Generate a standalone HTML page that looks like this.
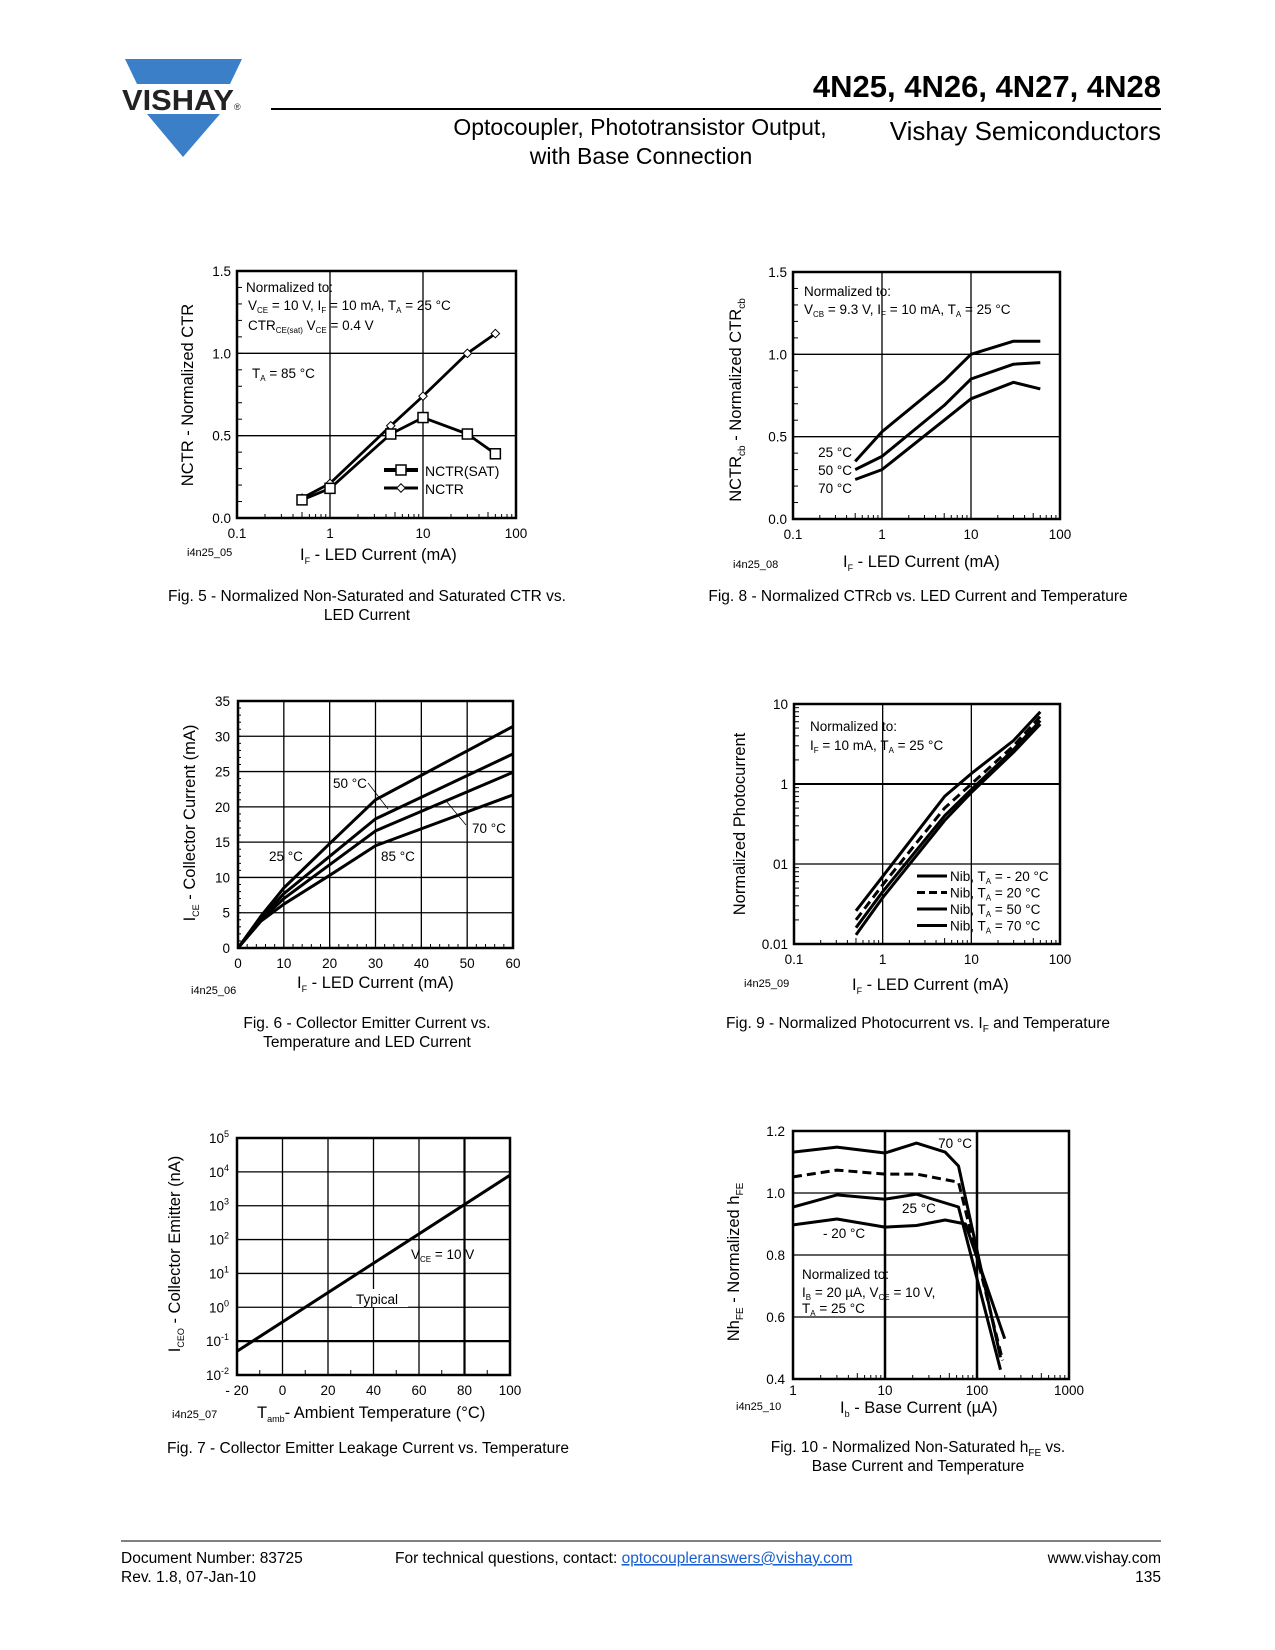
<!DOCTYPE html>
<html><head><meta charset="utf-8"><style>
html,body{margin:0;padding:0;background:#fff}
svg{display:block;font-family:"Liberation Sans",Arial,sans-serif}
</style></head><body>
<svg id="pg" width="1275" height="1650" viewBox="0 0 1275 1650" xmlns="http://www.w3.org/2000/svg">
<g>
<polygon points="125,59 242,59 230,84 137,84" fill="#3b7fc8"/>
<polygon points="147,114 220,114 183,157" fill="#3b7fc8"/>
<text x="122" y="110" font-size="29" font-weight="bold" fill="#222" textLength="112" lengthAdjust="spacingAndGlyphs">VISHAY</text>
<text x="234" y="110" font-size="9" fill="#222">®</text>
<text x="1161" y="97" font-size="31" font-weight="bold" text-anchor="end">4N25, 4N26, 4N27, 4N28</text>
<line x1="271" y1="109" x2="1161" y2="109" stroke="#000" stroke-width="2"/>
<text x="640" y="135" font-size="23" text-anchor="middle">Optocoupler, Phototransistor Output,</text>
<text x="641" y="164" font-size="23" text-anchor="middle">with Base Connection</text>
<text x="1161" y="140" font-size="26" text-anchor="end">Vishay Semiconductors</text>
</g>
<g id="charts"></g>
<g>
<line x1="121" y1="1541" x2="1161" y2="1541" stroke="#000" stroke-width="1"/>
<text x="121" y="1563" font-size="15.5">Document Number: 83725</text>
<text x="121" y="1582" font-size="15.5">Rev. 1.8, 07-Jan-10</text>
<text x="395" y="1563" font-size="15.5">For technical questions, contact: <tspan fill="#1a5fd0" text-decoration="underline">optocoupleranswers@vishay.com</tspan></text>
<text x="1161" y="1563" font-size="15.5" text-anchor="end">www.vishay.com</text>
<text x="1161" y="1582" font-size="15.5" text-anchor="end">135</text>
</g>
</svg>
<script>
// Fig 5
const f5x = [0.5, 1, 4.5, 10, 30, 60];
const f5nctr = [0.12, 0.21, 0.56, 0.74, 1.0, 1.12];
const f5sat = [0.11, 0.18, 0.51, 0.61, 0.51, 0.39];
const f5yt = [0, 0.5, 1.0, 1.5];
const f5xt = [0.1, 1, 10, 100];
// Fig 8
const f8x = [0.5, 1, 5, 10, 30, 60];
const f8t25 = [0.35, 0.53, 0.84, 1.0, 1.08, 1.08];
const f8t50 = [0.30, 0.38, 0.69, 0.85, 0.94, 0.95];
const f8t70 = [0.24, 0.30, 0.60, 0.73, 0.83, 0.79];
// Fig 6
const f6x = [0, 5, 10, 20, 30, 60];
const f6t25 = [0, 4.5, 8.5, 14.8, 21, 31.4];
const f6t50 = [0, 4.2, 7.7, 13, 18.3, 27.5];
const f6t70 = [0, 4.0, 7.0, 11.8, 16.6, 24.9];
const f6t85 = [0, 3.8, 6.2, 10.3, 14.5, 21.7];
const f6xt = [0, 10, 20, 30, 40, 50, 60];
const f6yt = [0, 5, 10, 15, 20, 25, 30, 35];
// Fig 9
const f9x = [0.5, 1, 5, 10, 30, 60];
const f9m20 = [0.026, 0.07, 0.7, 1.35, 3.5, 8];
const f9p20 = [0.02, 0.055, 0.5, 1.0, 3.0, 7];
const f9p50 = [0.016, 0.045, 0.4, 0.85, 2.7, 6.2];
const f9p70 = [0.013, 0.038, 0.35, 0.78, 2.5, 5.6];
// Fig 7
const f7x = [-20, 100];
const f7log = [-1.3, 3.9];
const f7xt = [-20, 0, 20, 40, 60, 80, 100];
const f7yt = [-2, -1, 0, 1, 2, 3, 4, 5];
// Fig 10
const f10x70 = [1, 3, 10, 22, 45, 63, 180];
const f10t70 = [1.132, 1.148, 1.129, 1.161, 1.132, 1.087, 0.47];
const f10xd = [1, 3, 10, 22, 63, 190];
const f10td = [1.052, 1.074, 1.061, 1.061, 1.035, 0.46];
const f10x25 = [1, 3, 10, 22, 63, 180];
const f10t25 = [0.955, 0.994, 0.98, 0.996, 0.955, 0.43];
const f10xm = [1, 3, 10, 22, 45, 75, 200];
const f10tm = [0.897, 0.916, 0.89, 0.895, 0.913, 0.9, 0.53];

const NS = "http://www.w3.org/2000/svg";
const root = document.getElementById('charts');
function mk(tag, attrs, parent, txt) {
  const e = document.createElementNS(NS, tag);
  for (const k in attrs) e.setAttribute(k, attrs[k]);
  if (txt !== undefined) e.textContent = txt;
  (parent || root).appendChild(e);
  return e;
}
function ln(g, x1, y1, x2, y2, w, name) {
  const e = mk('line', {x1:x1, y1:y1, x2:x2, y2:y2, stroke:'#000', 'stroke-width':w||1}, g);
  
  
  return e;
}
function tx(g, x, y, s, size, anchor, name, html) {
  const e = mk('text', {x:x, y:y, 'font-size':size||13.5, 'text-anchor':anchor||'start'}, g);
  if (html) e.innerHTML = s; else e.textContent = s;
  
  
  return e;
}
function path(g, xs, ys, fx, fy, w, dash, name) {
  let d = '';
  for (let i = 0; i < xs.length; i++) d += (i ? 'L' : 'M') + fx(xs[i]).toFixed(1) + ',' + fy(ys[i]).toFixed(1);
  const e = mk('path', {d:d, fill:'none', stroke:'#000', 'stroke-width':w||3, 'stroke-linejoin':'round'}, g);
  if (dash) e.setAttribute('stroke-dasharray', dash);
  
  
  return e;
}
function grp(name) {
  const g = mk('g', {});
  
  
  return g;
}
function logX(x0, x1, l0, l1) { return v => x0 + (Math.log10(v) - l0) * (x1 - x0) / (l1 - l0); }
function linS(p0, p1, v0, v1) { return v => p0 + (v - v0) * (p1 - p0) / (v1 - v0); }
function frame(g, L, T, R, B) {
  const e = mk('rect', {x:L, y:T, width:R-L, height:B-T, fill:'none', stroke:'#000', 'stroke-width':2.5}, g);
  
  
}
function logMinorX(g, fx, l0, l1, B) {
  for (let d = l0; d < l1; d++) for (let k = 2; k <= 9; k++) {
    const x = fx(k * Math.pow(10, d)); ln(g, x, B, x, B - (k === 5 ? 6 : 4), 1, 'x-minor-tick');
  }
}
function ytitle(g, x, y, s, name) {
  const e = tx(g, 0, 0, s, 16.5, 'middle', name, true);
  e.setAttribute('transform', 'translate(' + x + ',' + y + ') rotate(-90)');
}
function caption(g, cx, y, lines) {
  lines.forEach((s, i) => tx(g, cx, y + i * 19, s, 15.5, 'middle', 'figure-caption', true));
}

// ---- Fig 5
(function () {
  const g = grp('fig5-chart');
  const L = 237, R = 516, T = 271, B = 518;
  const fx = logX(L, R, -1, 2), fy = linS(B, T, 0, 1.5);
  [1, 10].forEach(v => ln(g, fx(v), T, fx(v), B, 1.3, 'x-grid'));
  [0.5, 1.0].forEach(v => ln(g, L, fy(v), R, fy(v), 1.3, 'y-grid'));
  for (let v = 0.1; v < 1.5; v += 0.1) ln(g, L, fy(v), L + 5, fy(v), 1, 'y-minor-tick');
  logMinorX(g, fx, -1, 2, B);
  frame(g, L, T, R, B);
  f5yt.forEach(v => tx(g, L - 6, fy(v) + 5, v.toFixed(1), 13.5, 'end', 'y-tick-label'));
  f5xt.forEach(v => tx(g, fx(v), B + 20, String(v), 13.5, 'middle', 'x-tick-label'));
  path(g, f5x, f5nctr, fx, fy, 2.8, null, 'series-nctr');
  path(g, f5x, f5sat, fx, fy, 2.8, null, 'series-nctr-sat');
  f5x.forEach((v, i) => {
    const d = mk('rect', {x:fx(v)-3, y:fy(f5nctr[i])-3, width:6, height:6, fill:'#fff', stroke:'#000', 'stroke-width':1, transform:'rotate(45 '+fx(v)+' '+fy(f5nctr[i])+')'}, g);
     
    const s = mk('rect', {x:fx(v)-5, y:fy(f5sat[i])-5, width:10, height:10, fill:'#fff', stroke:'#000', 'stroke-width':1.5}, g);
     
  });
  tx(g, 246, 292, 'Normalized to:', 13.5, 'start', 'norm-note');
  tx(g, 248, 310, 'V<tspan font-size="8" dy="3">CE</tspan><tspan dy="-3"> = 10 V, I</tspan><tspan font-size="8" dy="3">F</tspan><tspan dy="-3"> = 10 mA, T</tspan><tspan font-size="8" dy="3">A</tspan><tspan dy="-3"> = 25 °C</tspan>', 13.5, 'start', 'norm-note', true);
  tx(g, 248, 330, 'CTR<tspan font-size="8" dy="3">CE(sat)</tspan><tspan dy="-3"> V</tspan><tspan font-size="8" dy="3">CE</tspan><tspan dy="-3"> = 0.4 V</tspan>', 13.5, 'start', 'norm-note', true);
  tx(g, 252, 378, 'T<tspan font-size="8" dy="3">A</tspan><tspan dy="-3"> = 85 °C</tspan>', 13.5, 'start', 'temp-note', true);
  ln(g, 384, 470, 418, 470, 4, 'legend-line-sat');
  const s = mk('rect', {x:396, y:465, width:10, height:10, fill:'#fff', stroke:'#000', 'stroke-width':1.5}, g);
   
  tx(g, 425, 476, 'NCTR(SAT)', 14, 'start', 'legend-entry-sat');
  ln(g, 384, 488, 418, 488, 3, 'legend-line-nctr');
  const d = mk('rect', {x:398, y:485, width:6, height:6, fill:'#fff', stroke:'#000', transform:'rotate(45 401 488)'}, g);
   
  tx(g, 425, 494, 'NCTR', 14, 'start', 'legend-entry-nctr');
  ytitle(g, 193, 395, 'NCTR - Normalized CTR', 'y-axis-title');
  tx(g, 300, 560, 'I<tspan font-size="9" dy="4">F</tspan><tspan dy="-4"> - LED Current (mA)</tspan>', 16.5, 'start', 'x-axis-title', true);
  tx(g, 187, 556, 'i4n25_05', 11, 'start', 'figure-id');
  caption(g, 367, 601, ['Fig. 5 - Normalized Non-Saturated and Saturated CTR vs.', 'LED Current']);
})();

// ---- Fig 8
(function () {
  const g = grp('fig8-chart');
  const L = 793, R = 1060, T = 272, B = 519;
  const fx = logX(L, R, -1, 2), fy = linS(B, T, 0, 1.5);
  [1, 10].forEach(v => ln(g, fx(v), T, fx(v), B, 1.3, 'x-grid'));
  [0.5, 1.0].forEach(v => ln(g, L, fy(v), R, fy(v), 1.3, 'y-grid'));
  for (let v = 0.1; v < 1.5; v += 0.1) ln(g, L, fy(v), L + 5, fy(v), 1, 'y-minor-tick');
  logMinorX(g, fx, -1, 2, B);
  frame(g, L, T, R, B);
  f5yt.forEach(v => tx(g, L - 6, fy(v) + 5, v.toFixed(1), 13.5, 'end', 'y-tick-label'));
  f5xt.forEach(v => tx(g, fx(v), B + 20, String(v), 13.5, 'middle', 'x-tick-label'));
  path(g, f8x, f8t25, fx, fy, 3, null, 'series-25c');
  path(g, f8x, f8t50, fx, fy, 3, null, 'series-50c');
  path(g, f8x, f8t70, fx, fy, 3, null, 'series-70c');
  tx(g, 804, 296, 'Normalized to:', 13.5, 'start', 'norm-note');
  tx(g, 804, 314, 'V<tspan font-size="8" dy="3">CB</tspan><tspan dy="-3"> = 9.3 V, I</tspan><tspan font-size="8" dy="3">F</tspan><tspan dy="-3"> = 10 mA, T</tspan><tspan font-size="8" dy="3">A</tspan><tspan dy="-3"> = 25 °C</tspan>', 13.5, 'start', 'norm-note', true);
  tx(g, 852, 457, '25 °C', 13.5, 'end', 'label-25c');
  tx(g, 852, 475, '50 °C', 13.5, 'end', 'label-50c');
  tx(g, 852, 493, '70 °C', 13.5, 'end', 'label-70c');
  ytitle(g, 741, 400, 'NCTR<tspan font-size="10" dy="4">cb</tspan><tspan dy="-4"> - Normalized CTR</tspan><tspan font-size="10" dy="4">cb</tspan>', 'y-axis-title');
  tx(g, 843, 567, 'I<tspan font-size="9" dy="4">F</tspan><tspan dy="-4"> - LED Current (mA)</tspan>', 16.5, 'start', 'x-axis-title', true);
  tx(g, 733, 568, 'i4n25_08', 11, 'start', 'figure-id');
  caption(g, 918, 601, ['Fig. 8 - Normalized CTRcb vs. LED Current and Temperature']);
})();

// ---- Fig 6
(function () {
  const g = grp('fig6-chart');
  const L = 238, R = 513, T = 701, B = 948;
  const fx = linS(L, R, 0, 60), fy = linS(B, T, 0, 35);
  f6xt.slice(1, -1).forEach(v => ln(g, fx(v), T, fx(v), B, 1.3, 'x-grid'));
  f6yt.slice(1, -1).forEach(v => ln(g, L, fy(v), R, fy(v), 1.3, 'y-grid'));
  for (let v = 1; v < 35; v++) ln(g, L, fy(v), L + 3, fy(v), 1, 'y-minor-tick');
  for (let v = 2; v < 60; v += 2) ln(g, fx(v), B, fx(v), B - 4, 1, 'x-minor-tick');
  frame(g, L, T, R, B);
  f6yt.forEach(v => tx(g, L - 8, fy(v) + 5, String(v), 13.5, 'end', 'y-tick-label'));
  f6xt.forEach(v => tx(g, fx(v), B + 20, String(v), 13.5, 'middle', 'x-tick-label'));
  path(g, f6x, f6t25, fx, fy, 3, null, 'series-25c');
  path(g, f6x, f6t50, fx, fy, 3, null, 'series-50c');
  path(g, f6x, f6t70, fx, fy, 3, null, 'series-70c');
  path(g, f6x, f6t85, fx, fy, 3, null, 'series-85c');
  tx(g, 333, 788, '50 °C', 13.5, 'start', 'label-50c');
  ln(g, 368, 783, 388, 809, 0.8, 'leader-50c');
  tx(g, 472, 833, '70 °C', 13.5, 'start', 'label-70c');
  ln(g, 466, 825, 447, 802, 0.8, 'leader-70c');
  tx(g, 269, 861, '25 °C', 13.5, 'start', 'label-25c');
  tx(g, 381, 861, '85 °C', 13.5, 'start', 'label-85c');
  ytitle(g, 195, 823, 'I<tspan font-size="9" dy="4">CE</tspan><tspan dy="-4"> - Collector Current (mA)</tspan>', 'y-axis-title');
  tx(g, 297, 988, 'I<tspan font-size="9" dy="4">F</tspan><tspan dy="-4"> - LED Current (mA)</tspan>', 16.5, 'start', 'x-axis-title', true);
  tx(g, 191, 994, 'i4n25_06', 11, 'start', 'figure-id');
  caption(g, 367, 1028, ['Fig. 6 - Collector Emitter Current vs.', 'Temperature and LED Current']);
})();

// ---- Fig 9
(function () {
  const g = grp('fig9-chart');
  const L = 794, R = 1060, T = 704, B = 944;
  const fx = logX(L, R, -1, 2), fy = v => B - (Math.log10(v) + 2) * (B - T) / 3;
  [1, 10].forEach(v => ln(g, fx(v), T, fx(v), B, 1.3, 'x-grid'));
  [0.1, 1].forEach(v => ln(g, L, fy(v), R, fy(v), v === 1 ? 2 : 1.3, 'y-grid'));
  for (let d = -2; d < 1; d++) for (let k = 2; k <= 9; k++) ln(g, L, fy(k * Math.pow(10, d)), L + 5, fy(k * Math.pow(10, d)), 1, 'y-minor-tick');
  logMinorX(g, fx, -1, 2, B);
  frame(g, L, T, R, B);
  [['10', 10], ['1', 1], ['01', 0.1], ['0.01', 0.01]].forEach(p => tx(g, L - 6, fy(p[1]) + 5, p[0], 13.5, 'end', 'y-tick-label'));
  f5xt.forEach(v => tx(g, fx(v), B + 20, String(v), 13.5, 'middle', 'x-tick-label'));
  path(g, f9x, f9m20, fx, fy, 3, null, 'series-minus20c');
  path(g, f9x, f9p20, fx, fy, 3, '9,5', 'series-20c');
  path(g, f9x, f9p50, fx, fy, 3, null, 'series-50c');
  path(g, f9x, f9p70, fx, fy, 3, null, 'series-70c');
  tx(g, 810, 731, 'Normalized to:', 13.5, 'start', 'norm-note');
  tx(g, 810, 750, 'I<tspan font-size="8" dy="3">F</tspan><tspan dy="-3"> = 10 mA, T</tspan><tspan font-size="8" dy="3">A</tspan><tspan dy="-3"> = 25 °C</tspan>', 13.5, 'start', 'norm-note', true);
  const legs = [['- 20 °C', null], ['20 °C', '8,4'], ['50 °C', null], ['70 °C', null]];
  legs.forEach((l, i) => {
    const y = 876 + i * 16.5;
    const e = ln(g, 917, y, 947, y, 3, 'legend-line');
    if (l[1]) e.setAttribute('stroke-dasharray', l[1]);
    tx(g, 950, y + 5, 'Nib, T<tspan font-size="8" dy="3">A</tspan><tspan dy="-3"> = ' + l[0] + '</tspan>', 13.5, 'start', 'legend-entry', true);
  });
  ytitle(g, 745, 824, 'Normalized Photocurrent', 'y-axis-title');
  tx(g, 852, 990, 'I<tspan font-size="9" dy="4">F</tspan><tspan dy="-4"> - LED Current (mA)</tspan>', 16.5, 'start', 'x-axis-title', true);
  tx(g, 744, 987, 'i4n25_09', 11, 'start', 'figure-id');
  caption(g, 918, 1028, ['Fig. 9 - Normalized Photocurrent vs. I<tspan font-size="10" dy="4">F</tspan><tspan dy="-4"> and Temperature</tspan>']);
})();

// ---- Fig 7
(function () {
  const g = grp('fig7-chart');
  const L = 237, R = 510, T = 1138, B = 1375;
  const fx = linS(L, R, -20, 100), fy = linS(B, T, -2, 5);
  f7xt.slice(1, -1).forEach(v => ln(g, fx(v), T, fx(v), B, v === 80 ? 2.2 : 1.3, 'x-grid'));
  f7yt.slice(1, -1).forEach(v => ln(g, L, fy(v), R, fy(v), v === -1 ? 2.2 : 1.3, 'y-grid'));
  for (let v = -10; v < 100; v += 20) ln(g, fx(v), B, fx(v), B - 5, 1, 'x-minor-tick');
  frame(g, L, T, R, B);
  f7yt.forEach(v => tx(g, L - 8, fy(v) + 5, '10<tspan font-size="9" dy="-6">' + String(v) + '</tspan>', 13.5, 'end', 'y-tick-label', true));
  f7xt.forEach(v => tx(g, fx(v), B + 20, v < 0 ? '- ' + (-v) : String(v), 13.5, 'middle', 'x-tick-label'));
  path(g, f7x, f7log, fx, fy, 3, null, 'series-iceo');
  tx(g, 411, 1259, 'V<tspan font-size="8" dy="3">CE</tspan><tspan dy="-3"> = 10 V</tspan>', 13.5, 'start', 'vce-label', true);
  const bg = mk('rect', {x:352, y:1289, width:56, height:18, fill:'#fff'}, g);
   
  tx(g, 356, 1304, 'Typical', 13.5, 'start', 'typical-label');
  ytitle(g, 180, 1254, 'I<tspan font-size="9" dy="4">CEO</tspan><tspan dy="-4"> - Collector Emitter (nA)</tspan>', 'y-axis-title');
  tx(g, 257, 1418, 'T<tspan font-size="9" dy="4">amb</tspan><tspan dy="-4">- Ambient Temperature (°C)</tspan>', 16.5, 'start', 'x-axis-title', true);
  tx(g, 172, 1418, 'i4n25_07', 11, 'start', 'figure-id');
  caption(g, 368, 1453, ['Fig. 7 - Collector Emitter Leakage Current vs. Temperature']);
})();

// ---- Fig 10
(function () {
  const g = grp('fig10-chart');
  const L = 793, R = 1069, T = 1131, B = 1379;
  const fx = logX(L, R, 0, 3), fy = linS(B, T, 0.4, 1.2);
  [10, 100].forEach(v => ln(g, fx(v), T, fx(v), B, 2.5, 'x-grid'));
  [0.6, 0.8, 1.0].forEach(v => ln(g, L, fy(v), R, fy(v), 1.3, 'y-grid'));
  logMinorX(g, fx, 0, 3, B);
  frame(g, L, T, R, B);
  [0.4, 0.6, 0.8, 1.0, 1.2].forEach(v => tx(g, L - 8, fy(v) + 5, v.toFixed(1), 13.5, 'end', 'y-tick-label'));
  [1, 10, 100, 1000].forEach(v => tx(g, fx(v), B + 16, String(v), 13.5, 'middle', 'x-tick-label'));
  const cl = mk('clipPath', {id:'c10'}, g); mk('rect', {x:L, y:T, width:R-L, height:B-T}, cl);
  const pg = mk('g', {'clip-path':'url(#c10)'}, g);
   
  path(pg, f10x70, f10t70, fx, fy, 3, null, 'series-70c');
  path(pg, f10xd, f10td, fx, fy, 3, '9,5', 'series-dashed');
  path(pg, f10x25, f10t25, fx, fy, 3, null, 'series-25c');
  path(pg, f10xm, f10tm, fx, fy, 3, null, 'series-minus20c');
  tx(g, 972, 1148, '70 °C', 13.5, 'end', 'label-70c');
  tx(g, 902, 1213, '25 °C', 13.5, 'start', 'label-25c');
  tx(g, 823, 1238, '- 20 °C', 13.5, 'start', 'label-minus20c');
  tx(g, 802, 1279, 'Normalized to:', 13.5, 'start', 'norm-note');
  tx(g, 802, 1297, 'I<tspan font-size="8" dy="3">B</tspan><tspan dy="-3"> = 20 µA, V</tspan><tspan font-size="8" dy="3">CE</tspan><tspan dy="-3"> = 10 V,</tspan>', 13.5, 'start', 'norm-note', true);
  tx(g, 802, 1313, 'T<tspan font-size="8" dy="3">A</tspan><tspan dy="-3"> = 25 °C</tspan>', 13.5, 'start', 'norm-note', true);
  ytitle(g, 739, 1262, 'Nh<tspan font-size="10" dy="4">FE</tspan><tspan dy="-4"> - Normalized h</tspan><tspan font-size="10" dy="4">FE</tspan>', 'y-axis-title');
  tx(g, 840, 1413, 'I<tspan font-size="9" dy="4">b</tspan><tspan dy="-4"> - Base Current (µA)</tspan>', 16.5, 'start', 'x-axis-title', true);
  tx(g, 736, 1410, 'i4n25_10', 11, 'start', 'figure-id');
  caption(g, 918, 1452, ['Fig. 10 - Normalized Non-Saturated h<tspan font-size="10" dy="4">FE</tspan><tspan dy="-4"> vs.</tspan>', 'Base Current and Temperature']);
})();
</script>
</body></html>
